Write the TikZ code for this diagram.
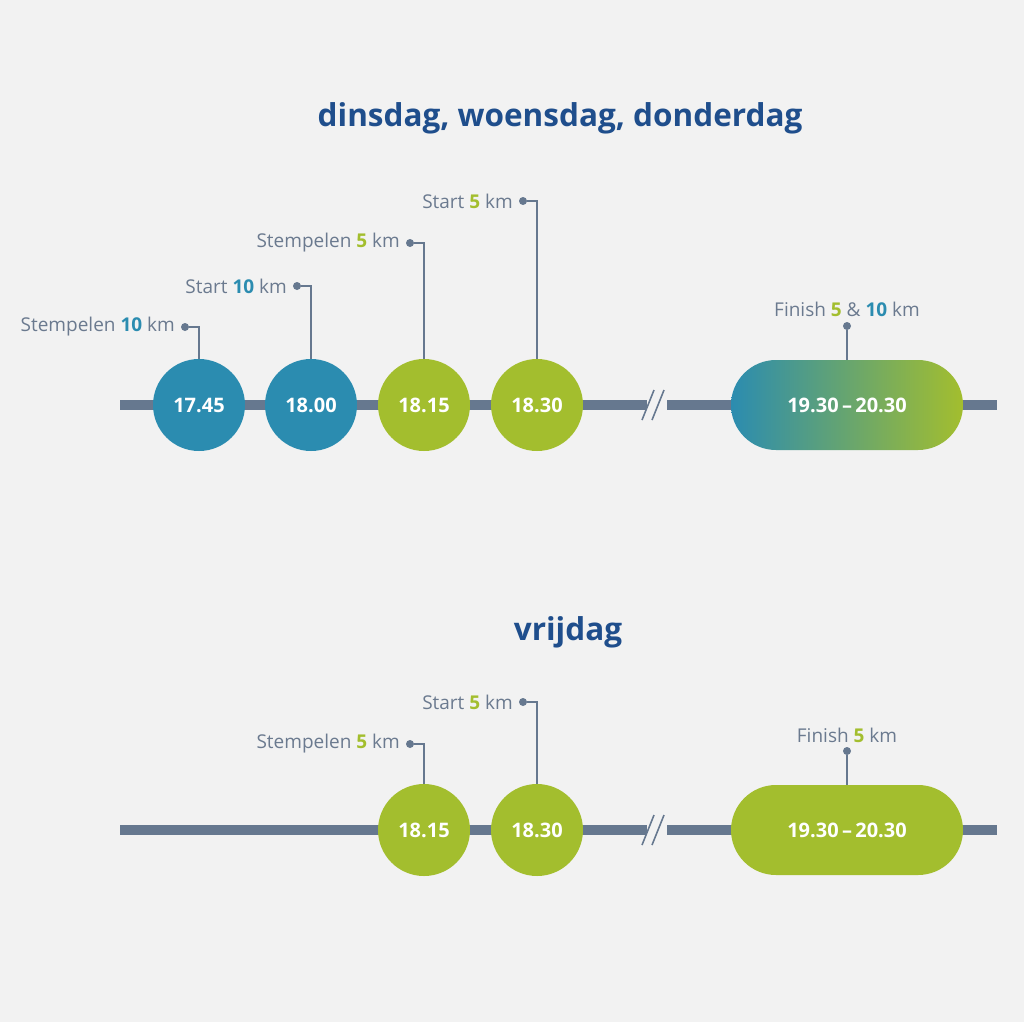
\documentclass[tikz,border=0pt]{standalone}
\usepackage{fontspec}
\setmainfont{Open Sans}
\usetikzlibrary{shapes.misc}
\definecolor{bg}{HTML}{F2F2F2}
\definecolor{ln}{HTML}{66788F}
\definecolor{bl}{HTML}{2B8CB0}
\definecolor{gr}{HTML}{A3BE2E}
\definecolor{tt}{HTML}{1F4E8C}
\definecolor{lb}{HTML}{6B7A8F}
\newcommand{\G}[1]{\textcolor{gr}{\bfseries #1}}
\newcommand{\B}[1]{\textcolor{bl}{\bfseries #1}}
\tikzset{
 circ/.style={circle,minimum size=92pt,inner sep=0pt,text=white,font=\fontsize{20}{20}\selectfont\bfseries},
 pill/.style={rounded rectangle,minimum width=232pt,minimum height=90pt,inner sep=0pt,text=white,font=\fontsize{20}{20}\selectfont\bfseries},
 lab/.style={text=lb,font=\fontsize{19}{19}\selectfont,inner sep=0pt},
 lead/.style={ln,line width=1.2pt},
 dot/.style={circle,fill=ln,inner sep=0pt,minimum size=8pt},
 title/.style={text=tt,font=\fontsize{31.5}{31.5}\selectfont\bfseries},
 axis/.style={ln,line width=10pt},
 brk/.style={ln,line width=1.6pt}
}
\begin{document}
\begin{tikzpicture}[x=1pt,y=-1pt]
\fill[bg] (0,0) rectangle (1024,1022);
\useasboundingbox (0,0) rectangle (1024,1022);
% ---- first timeline
\node[title] (t1) at (560,118) {dinsdag, woensdag, donderdag};
\coordinate (a1) at (120,405); \coordinate (a2) at (997,405);
\draw[axis] (a1) -- (a2);
\fill[bg] (647,398) rectangle (667,412);
\draw[brk] (642,420) -- (654,390); \draw[brk] (652,420) -- (664,390);
\node[circ,fill=bl] (c1) at (199,405) {17.45};
\node[circ,fill=bl] (c2) at (311,405) {18.00};
\node[circ,fill=gr] (c3) at (424,405) {18.15};
\node[circ,fill=gr] (c4) at (537,405) {18.30};
\shade[left color=bl,right color=gr,rounded corners=45pt] (731,360) rectangle (963,450);
\node[pill] (p1) at (847,405) {19.30\,–\,20.30};
\node[dot] (d1) at (185,327) {};
\node[dot] (d2) at (297,286) {};
\node[dot] (d3) at (410,243) {};
\node[dot] (d4) at (523,201) {};
\node[dot] (d5) at (847,326) {};
\draw[lead] (c1.north) |- (d1);
\draw[lead] (c2.north) |- (d2);
\draw[lead] (c3.north) |- (d3);
\draw[lead] (c4.north) |- (d4);
\draw[lead] (p1.north) -- (d5);
\node[lab,anchor=east] (l1) at (175,327) {Stempelen \B{10} km};
\node[lab,anchor=east] (l2) at (287,286) {Start \B{10} km};
\node[lab,anchor=east] (l3) at (400,243) {Stempelen \G{5} km};
\node[lab,anchor=east] (l4) at (513,201) {Start \G{5} km};
\node[lab] (l5) at (847,309) {Finish \G{5} \& \B{10} km};
% ---- second timeline
\node[title] (t2) at (568,632) {vrijdag};
\coordinate (b1) at (120,830); \coordinate (b2) at (997,830);
\draw[axis] (b1) -- (b2);
\fill[bg] (647,823) rectangle (667,837);
\draw[brk] (642,845) -- (654,815); \draw[brk] (652,845) -- (664,815);
\node[circ,fill=gr] (e3) at (424,830) {18.15};
\node[circ,fill=gr] (e4) at (537,830) {18.30};
\node[pill,fill=gr] (p2) at (847,830) {19.30\,–\,20.30};
\node[dot] (f3) at (410,744) {};
\node[dot] (f4) at (523,702) {};
\node[dot] (f5) at (847,751) {};
\draw[lead] (e3.north) |- (f3);
\draw[lead] (e4.north) |- (f4);
\draw[lead] (p2.north) -- (f5);
\node[lab,anchor=east] (m3) at (400,744) {Stempelen \G{5} km};
\node[lab,anchor=east] (m4) at (513,702) {Start \G{5} km};
\node[lab] (m5) at (847,735) {Finish \G{5} km};
\end{tikzpicture}
\end{document}
